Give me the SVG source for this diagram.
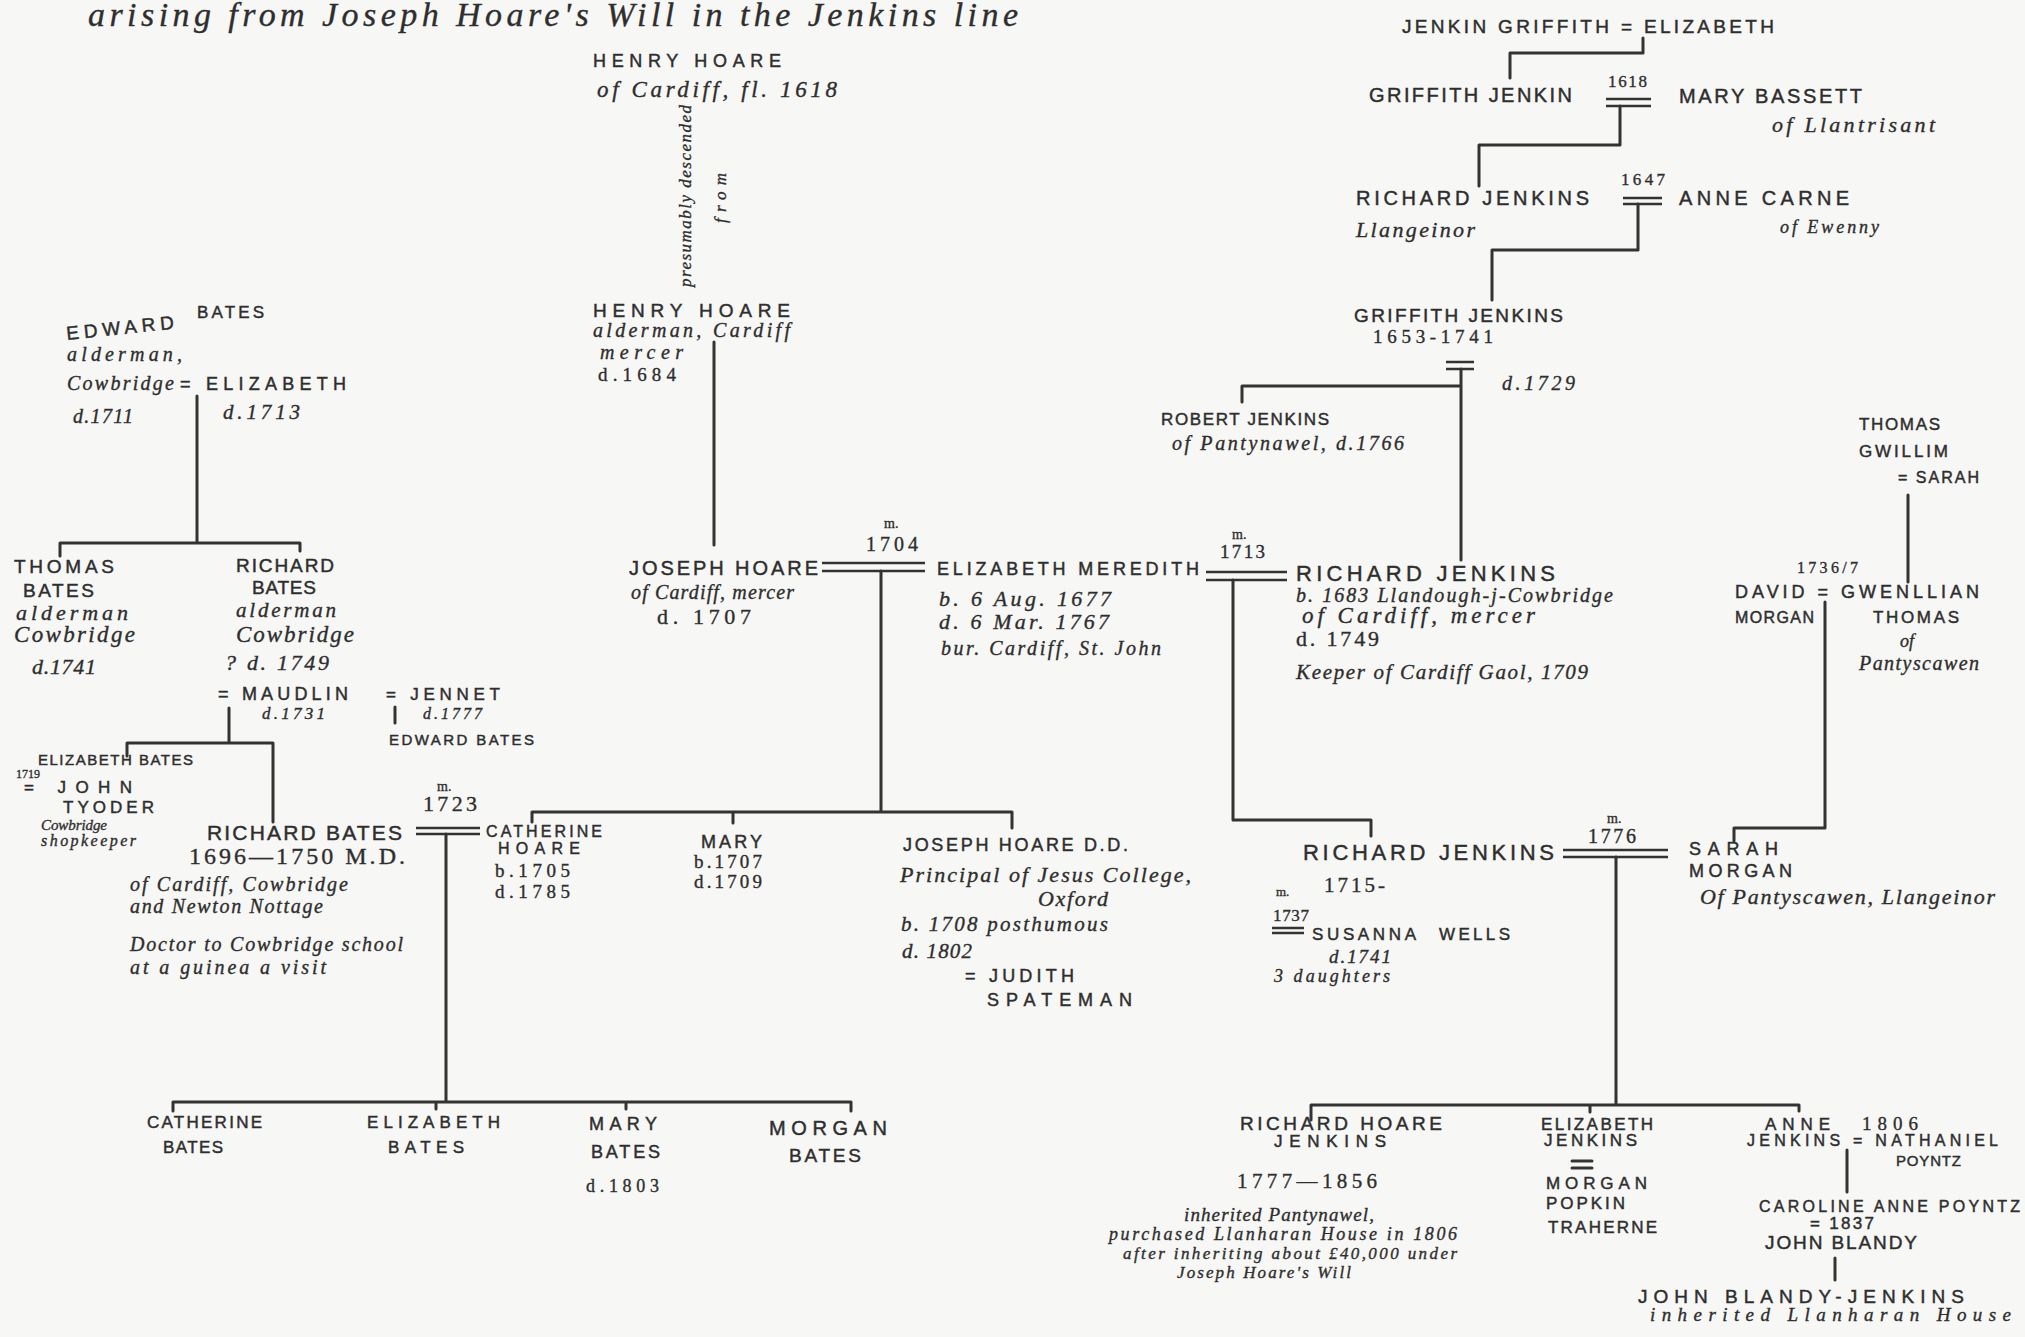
<svg xmlns="http://www.w3.org/2000/svg" width="2025" height="1337" viewBox="0 0 2025 1337">
<style>
.k{font-family:"Liberation Sans","DejaVu Sans",sans-serif;fill:#2e2e2e;stroke:#2e2e2e;stroke-width:0.45}
.h{font-family:"Liberation Serif","DejaVu Serif",serif;font-style:italic;fill:#2e2e2e;stroke:#2e2e2e;stroke-width:0.35}
.m{font-family:"Liberation Serif","DejaVu Serif",serif;fill:#2e2e2e;stroke:#2e2e2e;stroke-width:0.35}
.f12{font-size:12px}.f13{font-size:13px}.f14{font-size:14px}.f15{font-size:15px}.f16{font-size:16px}.f17{font-size:17px}.f18{font-size:18px}.f19{font-size:19px}.f20{font-size:20px}.f21{font-size:21px}.f22{font-size:22px}.f23{font-size:23px}.f24{font-size:24px}.f34{font-size:34px}
.ln{fill:none;stroke:#333;stroke-width:3;stroke-linecap:round;stroke-linejoin:round}
.eq{fill:none;stroke:#333;stroke-width:2.5}
</style>
<rect width="2025" height="1337" fill="#f7f7f5"/>
<g id="header"><text class="h f34" x="88" y="26" textLength="930">arising from Joseph Hoare's Will in the Jenkins line</text></g>

<g id="connectors">
<path class="ln" d="M1643,38 V53 H1510 V78"/>
<path class="eq" d="M1606,99 H1651 M1606,106 H1651"/>
<path class="ln" d="M1620,106 V145 H1479 V186"/>
<path class="eq" d="M1623,198 H1662 M1623,204 H1662"/>
<path class="ln" d="M1638,204 V250 H1492 V300"/>
<path class="eq" d="M1446,362 H1474 M1446,369 H1474"/>
<path class="ln" d="M1461,369 V560 M1461,386 H1242 V402"/>
<path class="ln" d="M714,342 V545"/>
<path class="eq" d="M822,563 H925 M822,571 H925"/>
<path class="ln" d="M881,571 V812 M532,822 V812 H1012 V828 M733,812 V823"/>
<path class="eq" d="M1206,572 H1287 M1206,580 H1287"/>
<path class="ln" d="M1233,580 V820 H1371 V836"/>
<path class="ln" d="M197,396 V543 M60,556 V543 H300 V551"/>
<path class="ln" d="M229,708 V743 M127,756 V743 H273 V822"/>
<path class="ln" d="M395,707 V723"/>
<path class="eq" d="M416,828 H480 M416,834 H480"/>
<path class="ln" d="M446,834 V1102 M173,1111 V1102 H851 V1111 M436,1102 V1109 M626,1102 V1109"/>
<path class="ln" d="M1908,495 V582"/>
<path class="ln" d="M1825,602 V828 H1734 V841"/>
<path class="eq" d="M1563,850 H1668 M1563,857 H1668"/>
<path class="ln" d="M1616,857 V1105 M1311,1120 V1105 H1799 V1111 M1590,1105 V1112"/>
<path class="ln" d="M1847,1150 V1192"/>
<path class="ln" d="M1835,1258 V1280"/>
<path class="eq" d="M1272,928 H1304 M1272,933 H1304"/>
<path class="ln" d="M1572,1161 H1592 M1572,1168 H1592"/>
</g>

<g id="jenkin-griffith"><text class="k f19" x="1402" y="33" textLength="372">JENKIN GRIFFITH = ELIZABETH</text></g>
<g id="griffith-jenkin">
<text class="k f20" x="1369" y="102" textLength="203">GRIFFITH JENKIN</text>
<text class="m f17" x="1608" y="87" textLength="39">1618</text>
<text class="k f20" x="1679" y="103" textLength="183">MARY BASSETT</text>
<text class="h f22" x="1772" y="132" textLength="163">of Llantrisant</text>
</g>
<g id="richard-jenkins-1647">
<text class="k f20" x="1356" y="205" textLength="233">RICHARD JENKINS</text>
<text class="h f22" x="1356" y="237" textLength="119">Llangeinor</text>
<text class="m f17" x="1621" y="185" textLength="44">1647</text>
<text class="k f20" x="1679" y="205" textLength="170">ANNE CARNE</text>
<text class="h f18" x="1780" y="233" textLength="99">of Ewenny</text>
</g>
<g id="griffith-jenkins">
<text class="k f19" x="1354" y="322" textLength="209">GRIFFITH JENKINS</text>
<text class="m f19" x="1373" y="343" textLength="120">1653-1741</text>
<text class="h f20" x="1502" y="390" textLength="73">d.1729</text>
</g>
<g id="robert-jenkins">
<text class="k f17" x="1161" y="425" textLength="168">ROBERT JENKINS</text>
<text class="h f20" x="1172" y="450" textLength="232">of Pantynawel, d.1766</text>
</g>

<g id="henry-hoare-1618">
<text class="k f18" x="593" y="67" textLength="188">HENRY HOARE</text>
<text class="h f23" x="597" y="97" textLength="240">of Cardiff, fl. 1618</text>
<text class="h f17" transform="translate(691,287) rotate(-90)" textLength="182">presumably descended</text>
<text class="h f17" transform="translate(726,223) rotate(-90)" textLength="50">from</text>
</g>
<g id="henry-hoare-1684">
<text class="k f19" x="593" y="317" textLength="197">HENRY HOARE</text>
<text class="h f20" x="593" y="337" textLength="197">alderman, Cardiff</text>
<text class="h f20" x="600" y="359" textLength="83">mercer</text>
<text class="m f19" x="598" y="381" textLength="78">d.1684</text>
</g>
<g id="joseph-hoare">
<text class="k f20" x="629" y="575" textLength="189">JOSEPH HOARE</text>
<text class="h f20" x="631" y="599" textLength="163">of Cardiff, mercer</text>
<text class="m f22" x="657" y="624" textLength="94">d. 1707</text>
<text class="m f14" x="884" y="528">m.</text>
<text class="m f20" x="866" y="551" textLength="52">1704</text>
</g>
<g id="elizabeth-meredith">
<text class="k f18" x="937" y="575" textLength="262">ELIZABETH MEREDITH</text>
<text class="h f22" x="939" y="606" textLength="172">b. 6 Aug. 1677</text>
<text class="h f22" x="939" y="629" textLength="170">d. 6 Mar. 1767</text>
<text class="h f20" x="941" y="655" textLength="220">bur. Cardiff, St. John</text>
</g>
<g id="richard-jenkins-1749">
<text class="m f14" x="1232" y="539">m.</text>
<text class="m f19" x="1220" y="558" textLength="45">1713</text>
<text class="k f22" x="1296" y="581" textLength="259">RICHARD JENKINS</text>
<text class="h f20" x="1296" y="602" textLength="317">b. 1683 Llandough-j-Cowbridge</text>
<text class="h f23" x="1302" y="623" textLength="233">of Cardiff, mercer</text>
<text class="m f22" x="1296" y="646" textLength="83">d. 1749</text>
<text class="h f21" x="1296" y="679" textLength="292">Keeper of Cardiff Gaol, 1709</text>
</g>
<g id="thomas-gwillim">
<text class="k f17" x="1859" y="430" textLength="81">THOMAS</text>
<text class="k f17" x="1859" y="457" textLength="89">GWILLIM</text>
<text class="k f16" x="1898" y="483" textLength="81">= SARAH</text>
</g>
<g id="david-morgan">
<text class="m f16" x="1797" y="573" textLength="61">1736/7</text>
<text class="k f18" x="1735" y="598" textLength="244">DAVID = GWENLLIAN</text>
<text class="k f16" x="1735" y="623" textLength="79">MORGAN</text>
<text class="k f17" x="1873" y="623" textLength="86">THOMAS</text>
<text class="h f18" x="1900" y="647">of</text>
<text class="h f20" x="1859" y="670" textLength="120">Pantyscawen</text>
</g>

<g id="edward-bates">
<text class="k f19" x="67" y="340" textLength="108" transform="rotate(-6 67 340)">EDWARD</text>
<text class="k f17" x="197" y="318" textLength="67">BATES</text>
<text class="h f20" x="67" y="361" textLength="115">alderman,</text>
<text class="h f20" x="67" y="390" textLength="107">Cowbridge</text>
<text class="h f20" x="73" y="423" textLength="60">d.1711</text>
<text class="k f18" x="180" y="390" textLength="166">= ELIZABETH</text>
<text class="h f21" x="223" y="419" textLength="77">d.1713</text>
</g>
<g id="thomas-bates">
<text class="k f19" x="14" y="573" textLength="100">THOMAS</text>
<text class="k f19" x="23" y="597" textLength="71">BATES</text>
<text class="h f22" x="16" y="620" textLength="112">alderman</text>
<text class="h f23" x="14" y="642" textLength="121">Cowbridge</text>
<text class="h f22" x="32" y="674" textLength="64">d.1741</text>
</g>
<g id="richard-bates-1749">
<text class="k f19" x="236" y="572" textLength="98">RICHARD</text>
<text class="k f19" x="252" y="594" textLength="64">BATES</text>
<text class="h f21" x="236" y="617" textLength="100">alderman</text>
<text class="h f23" x="236" y="642" textLength="118">Cowbridge</text>
<text class="h f22" x="225" y="670" textLength="104">? d. 1749</text>
<text class="k f18" x="218" y="700" textLength="130">= MAUDLIN</text>
<text class="h f17" x="262" y="719" textLength="63">d.1731</text>
</g>
<g id="jennet">
<text class="k f17" x="386" y="700" textLength="114">= JENNET</text>
<text class="h f16" x="423" y="719" textLength="59">d.1777</text>
<text class="k f15" x="389" y="745" textLength="145">EDWARD BATES</text>
</g>
<g id="elizabeth-bates">
<text class="k f15" x="38" y="765" textLength="155">ELIZABETH BATES</text>
<text class="m f12" x="16" y="778">1719</text>
<text class="k f17" x="24" y="793" textLength="108">= JOHN</text>
<text class="k f17" x="63" y="813" textLength="91">TYODER</text>
<text class="h f15" x="41" y="830" textLength="66">Cowbridge</text>
<text class="h f16" x="41" y="846" textLength="95">shopkeeper</text>
</g>
<g id="richard-bates-md">
<text class="k f21" x="207" y="840" textLength="195">RICHARD BATES</text>
<text class="m f24" x="189" y="864" textLength="216">1696—1750 M.D.</text>
<text class="h f20" x="130" y="891" textLength="218">of Cardiff, Cowbridge</text>
<text class="h f20" x="130" y="913" textLength="193">and Newton Nottage</text>
<text class="h f20" x="130" y="951" textLength="273">Doctor to Cowbridge school</text>
<text class="h f20" x="130" y="974" textLength="196">at a guinea a visit</text>
<text class="m f14" x="437" y="791">m.</text>
<text class="m f22" x="423" y="811" textLength="54">1723</text>
</g>
<g id="catherine-hoare">
<text class="k f16" x="486" y="837" textLength="116">CATHERINE</text>
<text class="k f16" x="498" y="854" textLength="82">HOARE</text>
<text class="m f19" x="495" y="877" textLength="75">b.1705</text>
<text class="m f19" x="495" y="898" textLength="75">d.1785</text>
</g>
<g id="mary-hoare">
<text class="k f18" x="701" y="848" textLength="61">MARY</text>
<text class="m f19" x="694" y="868" textLength="68">b.1707</text>
<text class="m f19" x="694" y="888" textLength="68">d.1709</text>
</g>
<g id="joseph-hoare-dd">
<text class="k f18" x="903" y="851" textLength="225">JOSEPH HOARE D.D.</text>
<text class="h f22" x="900" y="882" textLength="291">Principal of Jesus College,</text>
<text class="h f22" x="1038" y="906" textLength="70">Oxford</text>
<text class="h f21" x="901" y="931" textLength="207">b. 1708 posthumous</text>
<text class="h f21" x="902" y="958" textLength="70">d. 1802</text>
<text class="k f18" x="965" y="982" textLength="109">= JUDITH</text>
<text class="k f18" x="987" y="1006" textLength="145">SPATEMAN</text>
</g>
<g id="richard-jenkins-1715">
<text class="k f22" x="1303" y="860" textLength="251">RICHARD JENKINS</text>
<text class="m f21" x="1324" y="892" textLength="61">1715-</text>
<text class="m f13" x="1276" y="896">m.</text>
<text class="m f17" x="1273" y="921" textLength="36">1737</text>
<text class="k f17" x="1312" y="940" textLength="104">SUSANNA</text>
<text class="k f17" x="1439" y="940" textLength="71">WELLS</text>
<text class="h f19" x="1329" y="963" textLength="62">d.1741</text>
<text class="h f18" x="1274" y="982" textLength="116">3 daughters</text>
<text class="m f14" x="1607" y="823">m.</text>
<text class="m f20" x="1588" y="843" textLength="48">1776</text>
</g>
<g id="sarah-morgan">
<text class="k f18" x="1689" y="855" textLength="89">SARAH</text>
<text class="k f18" x="1689" y="877" textLength="103">MORGAN</text>
<text class="h f22" x="1700" y="904" textLength="295">Of Pantyscawen, Llangeinor</text>
</g>

<g id="catherine-bates">
<text class="k f17" x="147" y="1128" textLength="115">CATHERINE</text>
<text class="k f17" x="163" y="1153" textLength="60">BATES</text>
</g>
<g id="elizabeth-bates-2">
<text class="k f17" x="367" y="1128" textLength="133">ELIZABETH</text>
<text class="k f17" x="388" y="1153" textLength="76">BATES</text>
</g>
<g id="mary-bates">
<text class="k f18" x="589" y="1130" textLength="68">MARY</text>
<text class="k f18" x="591" y="1158" textLength="69">BATES</text>
<text class="m f18" x="586" y="1192" textLength="73">d.1803</text>
</g>
<g id="morgan-bates">
<text class="k f20" x="769" y="1135" textLength="118">MORGAN</text>
<text class="k f19" x="789" y="1162" textLength="72">BATES</text>
</g>

<g id="richard-hoare-jenkins">
<text class="k f19" x="1240" y="1130" textLength="202">RICHARD HOARE</text>
<text class="k f17" x="1274" y="1147" textLength="112">JENKINS</text>
<text class="m f21" x="1237" y="1188" textLength="140">1777—1856</text>
<text class="h f19" x="1184" y="1221" textLength="190">inherited Pantynawel,</text>
<text class="h f18" x="1109" y="1240" textLength="348">purchased Llanharan House in 1806</text>
<text class="h f17" x="1123" y="1259" textLength="334">after inheriting about £40,000 under</text>
<text class="h f17" x="1177" y="1278" textLength="174">Joseph Hoare's Will</text>
</g>
<g id="elizabeth-jenkins">
<text class="k f17" x="1541" y="1130" textLength="112">ELIZABETH</text>
<text class="k f17" x="1544" y="1146" textLength="93">JENKINS</text>
<text class="k f17" x="1546" y="1189" textLength="101">MORGAN</text>
<text class="k f17" x="1546" y="1209" textLength="79">POPKIN</text>
<text class="k f17" x="1548" y="1233" textLength="109">TRAHERNE</text>
</g>
<g id="anne-jenkins">
<text class="k f17" x="1765" y="1130" textLength="65">ANNE</text>
<text class="m f19" x="1862" y="1130" textLength="56">1806</text>
<text class="k f16" x="1747" y="1146" textLength="251">JENKINS = NATHANIEL</text>
<text class="k f15" x="1896" y="1166" textLength="65">POYNTZ</text>
</g>
<g id="caroline-poyntz">
<text class="k f16" x="1759" y="1212" textLength="261">CAROLINE ANNE POYNTZ</text>
<text class="k f17" x="1810" y="1229" textLength="64">= 1837</text>
<text class="k f19" x="1765" y="1249" textLength="152">JOHN BLANDY</text>
</g>
<g id="john-blandy-jenkins">
<text class="k f19" x="1638" y="1303" textLength="326">JOHN BLANDY-JENKINS</text>
<text class="h f19" x="1650" y="1321" textLength="361">inherited Llanharan House</text>
</g>
</svg>
